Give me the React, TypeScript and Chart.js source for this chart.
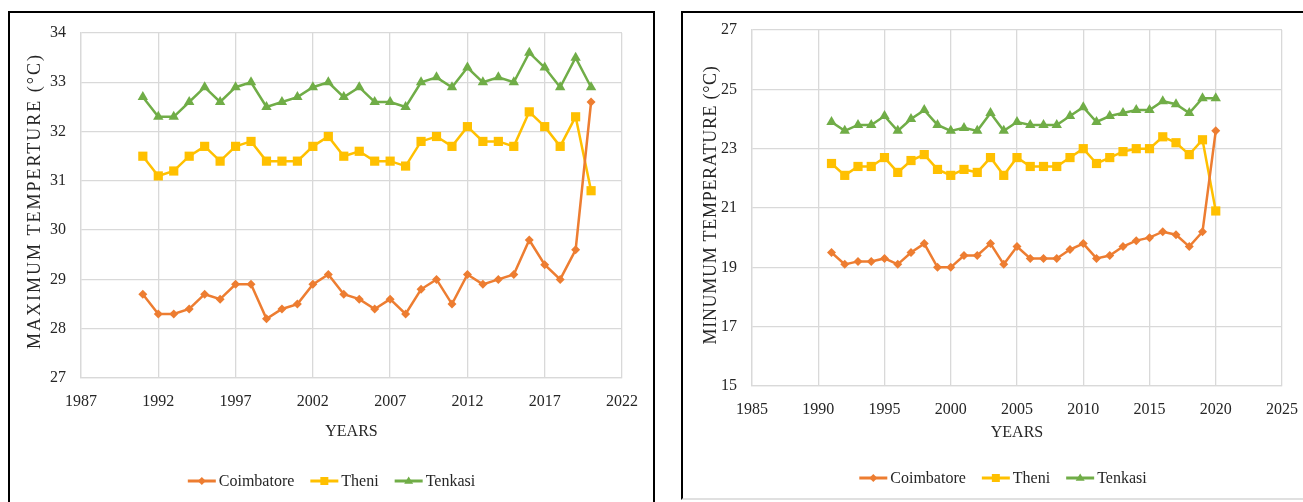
import { useEffect, useRef } from 'react';
import { Chart, registerables } from 'chart.js';
Chart.register(...registerables);

const FONT = "'Liberation Serif', 'Times New Roman', serif";
const TEXT = '#262626';
const GRID = '#d9d9d9';

const years = [1991, 1992, 1993, 1994, 1995, 1996, 1997, 1998, 1999, 2000, 2001, 2002, 2003, 2004, 2005, 2006, 2007, 2008, 2009, 2010, 2011, 2012, 2013, 2014, 2015, 2016, 2017, 2018, 2019, 2020];

const maxCoimbatore = [28.7, 28.3, 28.3, 28.4, 28.7, 28.6, 28.9, 28.9, 28.2, 28.4, 28.5, 28.9, 29.1, 28.7, 28.6, 28.4, 28.6, 28.3, 28.8, 29.0, 28.5, 29.1, 28.9, 29.0, 29.1, 29.8, 29.3, 29.0, 29.6, 32.6];
const maxTheni = [31.5, 31.1, 31.2, 31.5, 31.7, 31.4, 31.7, 31.8, 31.4, 31.4, 31.4, 31.7, 31.9, 31.5, 31.6, 31.4, 31.4, 31.3, 31.8, 31.9, 31.7, 32.1, 31.8, 31.8, 31.7, 32.4, 32.1, 31.7, 32.3, 30.8];
const maxTenkasi = [32.7, 32.3, 32.3, 32.6, 32.9, 32.6, 32.9, 33.0, 32.5, 32.6, 32.7, 32.9, 33.0, 32.7, 32.9, 32.6, 32.6, 32.5, 33.0, 33.1, 32.9, 33.3, 33.0, 33.1, 33.0, 33.6, 33.3, 32.9, 33.5, 32.9];

const minCoimbatore = [19.5, 19.1, 19.2, 19.2, 19.3, 19.1, 19.5, 19.8, 19.0, 19.0, 19.4, 19.4, 19.8, 19.1, 19.7, 19.3, 19.3, 19.3, 19.6, 19.8, 19.3, 19.4, 19.7, 19.9, 20.0, 20.2, 20.1, 19.7, 20.2, 23.6];
const minTheni = [22.5, 22.1, 22.4, 22.4, 22.7, 22.2, 22.6, 22.8, 22.3, 22.1, 22.3, 22.2, 22.7, 22.1, 22.7, 22.4, 22.4, 22.4, 22.7, 23.0, 22.5, 22.7, 22.9, 23.0, 23.0, 23.4, 23.2, 22.8, 23.3, 20.9];
const minTenkasi = [23.9, 23.6, 23.8, 23.8, 24.1, 23.6, 24.0, 24.3, 23.8, 23.6, 23.7, 23.6, 24.2, 23.6, 23.9, 23.8, 23.8, 23.8, 24.1, 24.4, 23.9, 24.1, 24.2, 24.3, 24.3, 24.6, 24.5, 24.2, 24.7, 24.7];

const seriesNames = ['Coimbatore', 'Theni', 'Tenkasi'];
const seriesColors = ['#ED7D31', '#FFC000', '#70AD47'];
const seriesMarkers = ['rectRot', 'rect', 'triangle'];
const markerRadius = [4.5, 6.5, 6];

const legendPlugin = {
  id: 'customLegend',
  afterDraw(chart: any, _args: any, opts: any) {
    const ctx = chart.ctx;
    ctx.save();
    ctx.font = `16px ${FONT}`;
    ctx.textBaseline = 'middle';
    const lineLen = 28, gap = 3, spacing = 16;
    const items = chart.data.datasets.map((ds: any) => ({ ds, w: ctx.measureText(ds.label).width }));
    const total = items.reduce((s: number, it: any) => s + lineLen + gap + it.w, 0) + spacing * (items.length - 1);
    let x = chart.width / 2 - total / 2 + (opts.dx || 0);
    const y = opts.y;
    items.forEach(({ ds, w }: any) => {
      ctx.strokeStyle = ds.borderColor;
      ctx.fillStyle = ds.borderColor;
      ctx.lineWidth = 3;
      ctx.beginPath();
      ctx.moveTo(x, y);
      ctx.lineTo(x + lineLen, y);
      ctx.stroke();
      const cx = x + lineLen / 2;
      ctx.beginPath();
      if (ds.pointStyle === 'rectRot') {
        const r = 4;
        ctx.moveTo(cx, y - r); ctx.lineTo(cx + r, y); ctx.lineTo(cx, y + r); ctx.lineTo(cx - r, y);
      } else if (ds.pointStyle === 'rect') {
        const h = 4;
        ctx.rect(cx - h, y - h, 2 * h, 2 * h);
      } else {
        const r = 4.5;
        ctx.moveTo(cx, y - r); ctx.lineTo(cx + r, y + r * 0.6); ctx.lineTo(cx - r, y + r * 0.6);
      }
      ctx.closePath();
      ctx.fill();
      ctx.fillStyle = TEXT;
      ctx.textAlign = 'left';
      ctx.fillText(ds.label, x + lineLen + gap, y + 1);
      x += lineLen + gap + w + spacing;
    });

    // y-axis title
    ctx.save();
    ctx.font = `18px ${FONT}`;
    (ctx as any).letterSpacing = `${opts.titleSpacing}px`;
    ctx.textAlign = 'center';
    ctx.textBaseline = 'middle';
    ctx.fillStyle = TEXT;
    ctx.translate(opts.titleX, opts.titleY);
    ctx.rotate(-Math.PI / 2);
    ctx.fillText(opts.title, 0, 0);
    ctx.restore();
    ctx.restore();
  },
};

type Geo = {
  w: number; h: number;
  padTop: number; padRight: number; padBottom: number;
  yWidth: number; xHeight: number;
  legendY: number; titleX: number; titleY: number; titleSpacing: number;
};

function makeDatasets(values: number[][]) {
  return values.map((vals, i) => ({
    label: seriesNames[i],
    data: years.map((yr, j) => ({ x: yr, y: vals[j] })),
    borderColor: seriesColors[i],
    backgroundColor: seriesColors[i],
    pointBackgroundColor: seriesColors[i],
    pointBorderColor: seriesColors[i],
    pointStyle: seriesMarkers[i],
    pointRadius: markerRadius[i],
    pointBorderWidth: 0,
    borderWidth: 2.5,
    tension: 0,
  }));
}

function LineChart(props: {
  geo: Geo; values: number[][]; xMin: number; xMax: number; yMin: number; yMax: number; yStep: number; yTitle: string;
}) {
  const ref = useRef<HTMLCanvasElement | null>(null);
  useEffect(() => {
    if (!ref.current) return;
    const g = props.geo;
    const chart = new Chart(ref.current, {
      type: 'line',
      data: { datasets: makeDatasets(props.values) as any },
      plugins: [legendPlugin as any],
      options: {
        responsive: false,
        animation: false,
        layout: { padding: { left: 0, top: g.padTop, right: g.padRight, bottom: g.padBottom } },
        plugins: {
          legend: { display: false },
          tooltip: { enabled: false },
          customLegend: { y: g.legendY, title: props.yTitle, titleX: g.titleX, titleY: g.titleY, titleSpacing: g.titleSpacing },
        } as any,
        scales: {
          x: {
            type: 'linear',
            min: props.xMin,
            max: props.xMax,
            ticks: { stepSize: 5, padding: 14, color: TEXT, font: { family: FONT, size: 16 }, callback: (v: any) => String(v) },
            grid: { color: GRID, drawTicks: false, lineWidth: 1.3 },
            border: { color: GRID, width: 1.3 },
            title: { display: true, text: 'YEARS', color: TEXT, font: { family: FONT, size: 16 }, padding: { top: 0, bottom: 0 } },
            afterFit: (s: any) => { s.height = g.xHeight; },
          },
          y: {
            min: props.yMin,
            max: props.yMax,
            ticks: { stepSize: props.yStep, padding: 15, color: TEXT, font: { family: FONT, size: 16 } },
            grid: { color: GRID, drawTicks: false, lineWidth: 1.3 },
            border: { color: GRID, width: 1.3 },
            afterFit: (s: any) => { s.width = g.yWidth; s.paddingTop = 0; s.paddingBottom = 0; },
          },
        },
      } as any,
    });
    return () => chart.destroy();
  }, []);
  return <canvas ref={ref} width={props.geo.w} height={props.geo.h} style={{ width: props.geo.w, height: props.geo.h, display: 'block' }} />;
}

const leftGeo: Geo = { w: 643, h: 490, padTop: 20, padRight: 31, padBottom: 61.4, yWidth: 71, xHeight: 63.6, legendY: 468, titleX: 25, titleY: 188, titleSpacing: 2 };
const rightGeo: Geo = { w: 640, h: 484, padTop: 17, padRight: 41, padBottom: 54.4, yWidth: 69, xHeight: 56.6, legendY: 465, titleX: 28, titleY: 192, titleSpacing: 0.7 };

export default function App() {
  return (
    <div style={{ position: 'fixed', left: 0, top: 0, width: 1303, height: 502, overflow: 'hidden', background: '#fff' }}>
      <div style={{ position: 'absolute', left: 8, top: 11, width: 643, height: 500, border: '2px solid #000' }}>
        <LineChart geo={leftGeo} values={[maxCoimbatore, maxTheni, maxTenkasi]} xMin={1987} xMax={2022} yMin={27} yMax={34} yStep={1} yTitle="MAXIMUM TEMPERTURE (°C)" />
      </div>
      <div style={{ position: 'absolute', left: 681, top: 11, width: 640, height: 485, border: '2px solid #000', borderBottom: '2px solid #e0e0e0' }}>
        <LineChart geo={rightGeo} values={[minCoimbatore, minTheni, minTenkasi]} xMin={1985} xMax={2025} yMin={15} yMax={27} yStep={2} yTitle="MINUMUM TEMPERATURE (°C)" />
      </div>
    </div>
  );
}
